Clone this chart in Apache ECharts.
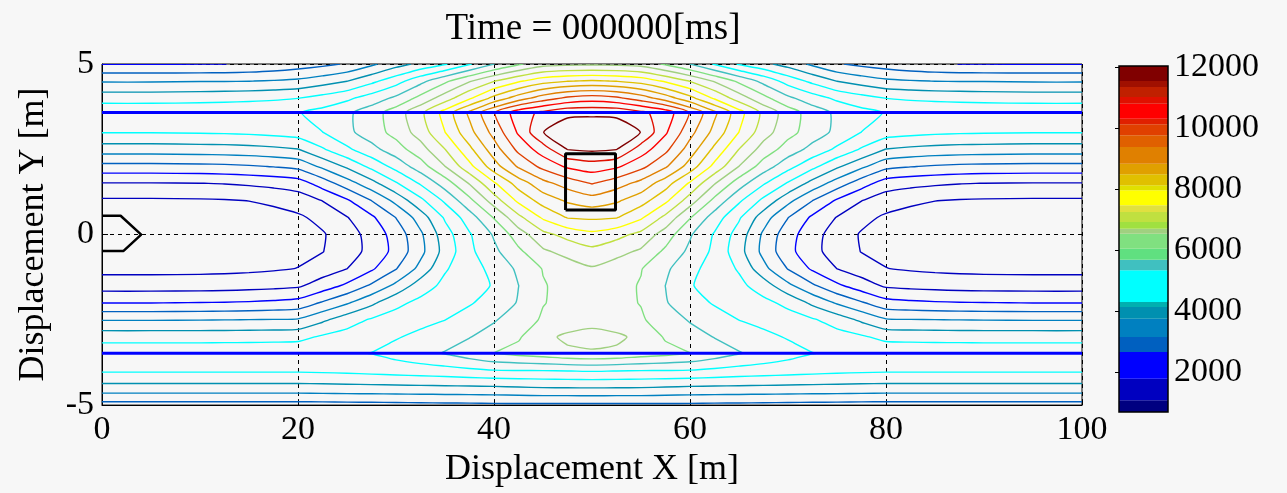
<!DOCTYPE html>
<html>
<head>
<meta charset="utf-8">
<script src="https://cdn.jsdelivr.net/npm/echarts@6.0.0/dist/echarts.min.js"></script>
<style>
html, body { margin: 0; padding: 0; background: #f7f7f7; }
#main { width: 1287px; height: 493px; }
</style>
</head>
<body>
<div id="main"></div>
<script>
// grid of the field (columns = x, rows = y, bottom row first)
var gridX = [0, 5, 10, 12.5, 15, 17.5, 20, 22.5, 25, 27.5, 30, 32.5, 35, 37.5, 40, 42.5, 45, 47.5, 50,
    52.5, 55, 57.5, 60, 62.5, 65, 67.5, 70, 72.5, 75, 77.5, 80, 82.5, 85, 87.5, 90, 95, 100];
var gridY = [-5, -4.5, -4, -3.48, -3, -2.5, -2, -1.5, -1, -0.5, 0, 0.5, 1, 1.5, 2, 2.5, 3, 3.58, 4, 4.5, 5];
var fieldRows = [
    [2530, 2530, 2530, 2530, 2530, 2530, 2530, 2541, 2558, 2569, 2585, 2596, 2613, 2624, 2640, 2640, 2640, 2640, 2640,
        2640, 2640, 2640, 2640, 2624, 2613, 2596, 2585, 2569, 2558, 2541, 2530, 2530, 2530, 2530, 2530, 2530, 2530],
    [3630, 3630, 3630, 3630, 3630, 3630, 3630, 3641, 3658, 3669, 3685, 3696, 3713, 3724, 3740, 3784, 3823, 3834, 3839,
        3834, 3823, 3784, 3740, 3724, 3713, 3696, 3685, 3669, 3658, 3641, 3630, 3630, 3630, 3630, 3630, 3630, 3630],
    [4455, 4455, 4455, 4455, 4455, 4455, 4455, 4483, 4510, 4565, 4620, 4675, 4730, 4813, 4895, 4912, 4923, 4945, 4978,
        4945, 4923, 4912, 4895, 4813, 4730, 4675, 4620, 4565, 4510, 4483, 4455, 4455, 4455, 4455, 4455, 4455, 4455],
    [4785, 4785, 4785, 4791, 4796, 4802, 4813, 4862, 4906, 4961, 5148, 5335, 5533, 5797, 6061, 6215, 6325, 6490, 6545,
        6490, 6325, 6215, 6061, 5797, 5533, 5335, 5148, 4961, 4906, 4862, 4813, 4802, 4796, 4791, 4785, 4785, 4785],
    [4180, 4180, 4180, 4186, 4191, 4208, 4235, 4477, 4620, 4763, 4906, 5082, 5280, 5478, 5731, 5990, 6452, 6710, 6765,
        6710, 6452, 5990, 5731, 5478, 5280, 5082, 4906, 4763, 4620, 4477, 4235, 4208, 4191, 4186, 4180, 4180, 4180],
    [3273, 3273, 3284, 3295, 3311, 3328, 3355, 3746, 4153, 4466, 4626, 4791, 4945, 5198, 5451, 5781, 6116, 6265, 6435,
        6265, 6116, 5781, 5451, 5198, 4945, 4791, 4626, 4466, 4153, 3746, 3355, 3328, 3311, 3295, 3284, 3273, 3273],
    [2189, 2189, 2211, 2228, 2255, 2310, 2393, 2811, 3234, 3729, 4268, 4538, 4714, 4895, 5187, 5539, 6028, 6193, 6353,
        6193, 6028, 5539, 5187, 4895, 4714, 4538, 4268, 3729, 3234, 2811, 2393, 2310, 2255, 2228, 2211, 2189, 2189],
    [1397, 1397, 1408, 1425, 1458, 1502, 1568, 1909, 2316, 2844, 3438, 4142, 4538, 4752, 4989, 5495, 6012, 6221, 6408,
        6221, 6012, 5495, 4989, 4752, 4538, 4142, 3438, 2844, 2316, 1909, 1568, 1502, 1458, 1425, 1408, 1397, 1397],
    [935, 935, 946, 963, 990, 1040, 1111, 1370, 1645, 2112, 2723, 3471, 4345, 4719, 5110, 5605, 6078, 6325, 6545,
        6325, 6078, 5605, 5110, 4719, 4345, 3471, 2723, 2112, 1645, 1370, 1111, 1040, 990, 963, 946, 935, 935],
    [743, 743, 754, 770, 798, 875, 990, 1084, 1403, 1815, 2376, 3141, 4065, 4824, 5374, 5935, 6507, 6776, 6985,
        6776, 6507, 5935, 5374, 4824, 4065, 3141, 2376, 1815, 1403, 1084, 990, 875, 798, 770, 754, 743, 743],
    [699, 699, 715, 737, 770, 814, 880, 1051, 1403, 1854, 2431, 3201, 4164, 4895, 5561, 6342, 6991, 7321, 7563,
        7321, 6991, 6342, 5561, 4895, 4164, 3201, 2431, 1854, 1403, 1051, 880, 814, 770, 737, 715, 699, 699],
    [770, 770, 781, 798, 825, 902, 1018, 1249, 1623, 2101, 2761, 3564, 4472, 5242, 6089, 7002, 7783, 8283, 8333,
        8283, 7783, 7002, 6089, 5242, 4472, 3564, 2761, 2101, 1623, 1249, 1018, 902, 825, 798, 781, 770, 770],
    [1029, 1029, 1045, 1067, 1111, 1210, 1359, 1667, 2134, 2761, 3471, 4268, 5049, 5902, 6875, 7832, 8487, 8883, 9103,
        8883, 8487, 7832, 6875, 5902, 5049, 4268, 3471, 2761, 2134, 1667, 1359, 1210, 1111, 1067, 1045, 1029, 1029],
    [1623, 1623, 1639, 1672, 1733, 1815, 1925, 2448, 3047, 3652, 4340, 5011, 5759, 6639, 7623, 8492, 9174, 9587, 9928,
        9587, 9174, 8492, 7623, 6639, 5759, 5011, 4340, 3652, 3047, 2448, 1925, 1815, 1733, 1672, 1639, 1623, 1623],
    [2585, 2585, 2613, 2640, 2695, 2778, 2915, 3421, 3949, 4554, 5143, 5792, 6595, 7541, 8564, 9433, 10060, 10544, 10725,
        10544, 10060, 9433, 8564, 7541, 6595, 5792, 5143, 4554, 3949, 3421, 2915, 2778, 2695, 2640, 2613, 2585, 2585],
    [3575, 3575, 3603, 3619, 3658, 3729, 3834, 4340, 4846, 5319, 5808, 6375, 7145, 8124, 9097, 10043, 10736, 11570, 11660,
        11570, 10736, 10043, 9097, 8124, 7145, 6375, 5808, 5319, 4846, 4340, 3834, 3729, 3658, 3619, 3603, 3575, 3575],
    [4428, 4428, 4455, 4472, 4510, 4576, 4675, 4945, 5368, 5786, 6232, 6842, 7695, 8630, 9532, 10527, 11540, 11880, 11935,
        11880, 11540, 10527, 9532, 8630, 7695, 6842, 6232, 5786, 5368, 4945, 4675, 4576, 4510, 4472, 4455, 4428, 4428],
    [4785, 4785, 4796, 4813, 4840, 4873, 4923, 5121, 5390, 5786, 6325, 7007, 7909, 8910, 9862, 10758, 11116, 11420, 11440,
        11420, 11116, 10758, 9862, 8910, 7909, 7007, 6325, 5786, 5390, 5121, 4923, 4873, 4840, 4813, 4796, 4785, 4785],
    [4180, 4180, 4208, 4230, 4263, 4312, 4389, 4593, 4840, 5198, 5610, 6215, 6875, 7618, 8415, 9075, 9625, 10010, 10175,
        10010, 9625, 9075, 8415, 7618, 6875, 6215, 5610, 5198, 4840, 4593, 4389, 4312, 4263, 4230, 4208, 4180, 4180],
    [3245, 3245, 3273, 3278, 3289, 3339, 3410, 3603, 3839, 4263, 4730, 5335, 5940, 6545, 7123, 7618, 8030, 8223, 8305,
        8223, 8030, 7618, 7123, 6545, 5940, 5335, 4730, 4263, 3839, 3603, 3410, 3339, 3289, 3278, 3273, 3245, 3245],
    [2189, 2189, 2189, 2195, 2255, 2338, 2475, 2613, 2805, 3190, 3630, 3988, 4345, 4895, 5489, 5968, 6380, 6463, 6490,
        6463, 6380, 5968, 5489, 4895, 4345, 3988, 3630, 3190, 2805, 2613, 2475, 2338, 2255, 2195, 2189, 2189, 2189]
];
var contourLevels = [1100, 1650, 2200, 2750, 3300, 3850, 4400, 4950, 5500, 6050,
    6600, 7150, 7700, 8250, 8800, 9350, 9900, 10450, 11000, 11550];

// colour bar bands: [from, to, colour]
var colorbarBands = [
    [688, 1070, '#000080'], [1070, 1780, '#0000c0'], [1780, 2655, '#0000ff'],
    [2655, 3147, '#0060c0'], [3147, 3748, '#0080c0'], [3748, 4130, '#0090b0'],
    [4130, 4294, '#00b0b0'], [4294, 5333, '#00ffff'], [5333, 5682, '#40c0c0'],
    [5682, 6043, '#60e080'], [6043, 6535, '#80e080'], [6535, 6699, '#a0d080'],
    [6699, 6917, '#a0e040'], [6917, 7245, '#c0e040'], [7245, 7464, '#e0e040'],
    [7464, 7956, '#ffff00'], [7956, 8120, '#e0e000'], [8120, 8481, '#e0c000'],
    [8481, 8830, '#e0a000'], [8830, 9377, '#e08000'], [9377, 9759, '#e06000'],
    [9759, 10120, '#e04000'], [10120, 10306, '#e02000'], [10306, 10798, '#ff0000'],
    [10798, 11016, '#e01000'], [11016, 11344, '#c02000'], [11344, 11541, '#a01000'],
    [11541, 12033, '#800000']
];
var colorbarTicks = [2000, 4000, 6000, 8000, 10000, 12000];

var roadY = [3.58, -3.48];
var loadBox = [[47.3, 0.72], [52.4, 0.72], [52.4, 2.37], [47.3, 2.37], [47.3, 0.72]];
var vehicleOutline = [[0, 0.55], [1.9, 0.55], [4.0, 0], [2.2, -0.48], [0, -0.48]];

var FONT = 'Liberation Serif';

function bandColor(v) {
    for (var i = 0; i < colorbarBands.length; i++) {
        if (v >= colorbarBands[i][0] && v < colorbarBands[i][1]) return colorbarBands[i][2];
    }
    return colorbarBands[colorbarBands.length - 1][2];
}

// marching squares on the grid, segments chained into polylines
function traceLevel(level) {
    var nx = gridX.length, ny = gridY.length;
    var pts = {}, adj = {};
    function edgePoint(k, xa, ya, va, xb, yb, vb) {
        if (!pts[k]) {
            var t = (level - va) / (vb - va);
            pts[k] = [xa + t * (xb - xa), ya + t * (yb - ya)];
        }
        return k;
    }
    function link(a, b) {
        (adj[a] = adj[a] || []).push(b);
        (adj[b] = adj[b] || []).push(a);
    }
    for (var j = 0; j < ny - 1; j++) {
        for (var i = 0; i < nx - 1; i++) {
            var x0 = gridX[i], x1 = gridX[i + 1], y0 = gridY[j], y1 = gridY[j + 1];
            var a = fieldRows[j][i], b = fieldRows[j][i + 1], c = fieldRows[j + 1][i + 1], d = fieldRows[j + 1][i];
            var ea = a >= level, eb = b >= level, ec = c >= level, ed = d >= level;
            var kB = 'h' + i + '_' + j, kR = 'v' + (i + 1) + '_' + j, kT = 'h' + i + '_' + (j + 1), kL = 'v' + i + '_' + j;
            var cross = [];
            if (ea !== eb) cross.push(edgePoint(kB, x0, y0, a, x1, y0, b));
            if (eb !== ec) cross.push(edgePoint(kR, x1, y0, b, x1, y1, c));
            if (ec !== ed) cross.push(edgePoint(kT, x1, y1, c, x0, y1, d));
            if (ed !== ea) cross.push(edgePoint(kL, x0, y1, d, x0, y0, a));
            if (cross.length === 2) {
                link(cross[0], cross[1]);
            } else if (cross.length === 4) {
                var centre = (a + b + c + d) / 4 >= level;
                if (centre === ea) { link(kB, kR); link(kT, kL); }
                else { link(kL, kB); link(kR, kT); }
            }
        }
    }
    var used = {}, paths = [];
    function walk(start) {
        var path = [start], cur = start;
        used[start] = true;
        while (true) {
            var next = null;
            for (var n = 0; n < adj[cur].length; n++) {
                if (!used[adj[cur][n]]) { next = adj[cur][n]; break; }
            }
            if (next === null) {
                if (path.length > 2 && adj[cur].indexOf(start) >= 0) path.push(start);
                break;
            }
            used[next] = true;
            path.push(next);
            cur = next;
        }
        return path.map(function (k) { return pts[k]; });
    }
    var keys = Object.keys(adj);
    keys.forEach(function (k) { if (adj[k].length === 1 && !used[k]) paths.push(walk(k)); });
    keys.forEach(function (k) { if (!used[k]) paths.push(walk(k)); });
    return paths;
}

var contourPaths = [];
contourLevels.forEach(function (lv) {
    traceLevel(lv).forEach(function (p) {
        contourPaths.push({ points: p, color: bandColor(lv) });
    });
});

var myChart = echarts.init(document.getElementById('main'), null, { renderer: 'canvas' });

var labelStyle = { fontFamily: FONT, fontSize: 34, color: '#000' };

var option = {
    backgroundColor: '#f7f7f7',
    animation: false,
    title: {
        text: 'Time = 000000[ms]',
        left: 588,
        top: 6,
        textAlign: 'center',
        textStyle: { fontFamily: FONT, fontSize: 37, fontWeight: 'normal', color: '#000' }
    },
    grid: [
        { left: 102, top: 64, width: 980, height: 343, show: true, borderColor: '#000', borderWidth: 1, backgroundColor: 'transparent' },
        { left: 1119, top: 66, width: 49, height: 346, show: false }
    ],
    xAxis: [
        {
            type: 'value', gridIndex: 0, min: 0, max: 100, interval: 20,
            name: 'Displacement X [m]', nameLocation: 'middle', nameGap: 44,
            nameTextStyle: { fontFamily: FONT, fontSize: 36, color: '#000' },
            axisLine: { onZero: false, lineStyle: { color: '#000' } },
            axisTick: { inside: true, length: 6, lineStyle: { color: '#000' } },
            axisLabel: Object.assign({ margin: 8 }, labelStyle),
            splitLine: { show: true, lineStyle: { color: '#000', type: [4, 4], width: 1 } }
        },
        { type: 'value', gridIndex: 1, min: 0, max: 1, show: false }
    ],
    yAxis: [
        {
            type: 'value', gridIndex: 0, min: -5, max: 5, interval: 5,
            name: 'Displacement Y [m]', nameLocation: 'middle', nameGap: 50, nameRotate: 90,
            nameTextStyle: { fontFamily: FONT, fontSize: 36, color: '#000' },
            axisLine: { onZero: false, lineStyle: { color: '#000' } },
            axisTick: { inside: true, length: 6, lineStyle: { color: '#000' } },
            axisLabel: Object.assign({ margin: 8 }, labelStyle),
            splitLine: { show: true, lineStyle: { color: '#000', type: [4, 4], width: 1 } }
        },
        {
            type: 'value', gridIndex: 1, min: 688, max: 12033, position: 'right',
            axisLine: { show: false },
            axisTick: { show: true, inside: true, length: 4, customValues: colorbarTicks, lineStyle: { color: '#000' } },
            axisLabel: Object.assign({
                margin: 6,
                customValues: colorbarTicks,
                formatter: function (v) { return String(v); }
            }, labelStyle),
            splitLine: { show: false }
        }
    ],
    series: [
        {
            type: 'custom',
            name: 'contours',
            xAxisIndex: 0, yAxisIndex: 0,
            clip: true,
            z: 2,
            data: contourPaths.map(function (p) { return p.points[0]; }),
            renderItem: function (params, api) {
                var p = contourPaths[params.dataIndex];
                return {
                    type: 'polyline',
                    shape: { points: p.points.map(function (q) { return api.coord(q); }), smooth: 0.2 },
                    style: { stroke: p.color, lineWidth: 1.4, fill: null }
                };
            }
        },
        {
            type: 'line', xAxisIndex: 0, yAxisIndex: 0, z: 3,
            data: [[0, roadY[0]], [100, roadY[0]]],
            symbol: 'none', lineStyle: { color: '#0000ff', width: 3 }
        },
        {
            type: 'line', xAxisIndex: 0, yAxisIndex: 0, z: 3,
            data: [[0, roadY[1]], [100, roadY[1]]],
            symbol: 'none', lineStyle: { color: '#0000ff', width: 3 }
        },
        {
            type: 'line', xAxisIndex: 0, yAxisIndex: 0, z: 4,
            data: loadBox, symbol: 'none', lineStyle: { color: '#000', width: 3 }
        },
        {
            type: 'line', xAxisIndex: 0, yAxisIndex: 0, z: 4,
            data: vehicleOutline, symbol: 'none', lineStyle: { color: '#000', width: 2.5 }
        },
        {
            type: 'custom',
            name: 'colorbar',
            xAxisIndex: 1, yAxisIndex: 1,
            data: colorbarBands.map(function (b) { return [0, b[0], b[1]]; }),
            renderItem: function (params, api) {
                var lo = api.coord([0, api.value(1)]);
                var hi = api.coord([1, api.value(2)]);
                return {
                    type: 'rect',
                    shape: { x: lo[0], y: hi[1], width: hi[0] - lo[0], height: lo[1] - hi[1] },
                    style: { fill: colorbarBands[params.dataIndex][2], stroke: null }
                };
            }
        },
        {
            type: 'custom',
            name: 'colorbarFrame',
            xAxisIndex: 1, yAxisIndex: 1, z: 5,
            data: [[0, 688, 12033]],
            renderItem: function (params, api) {
                var lo = api.coord([0, api.value(1)]);
                var hi = api.coord([1, api.value(2)]);
                return {
                    type: 'rect',
                    shape: { x: lo[0], y: hi[1], width: hi[0] - lo[0], height: lo[1] - hi[1] },
                    style: { fill: null, stroke: '#000', lineWidth: 1.5 }
                };
            }
        }
    ]
};

myChart.setOption(option);
</script>
</body>
</html>
